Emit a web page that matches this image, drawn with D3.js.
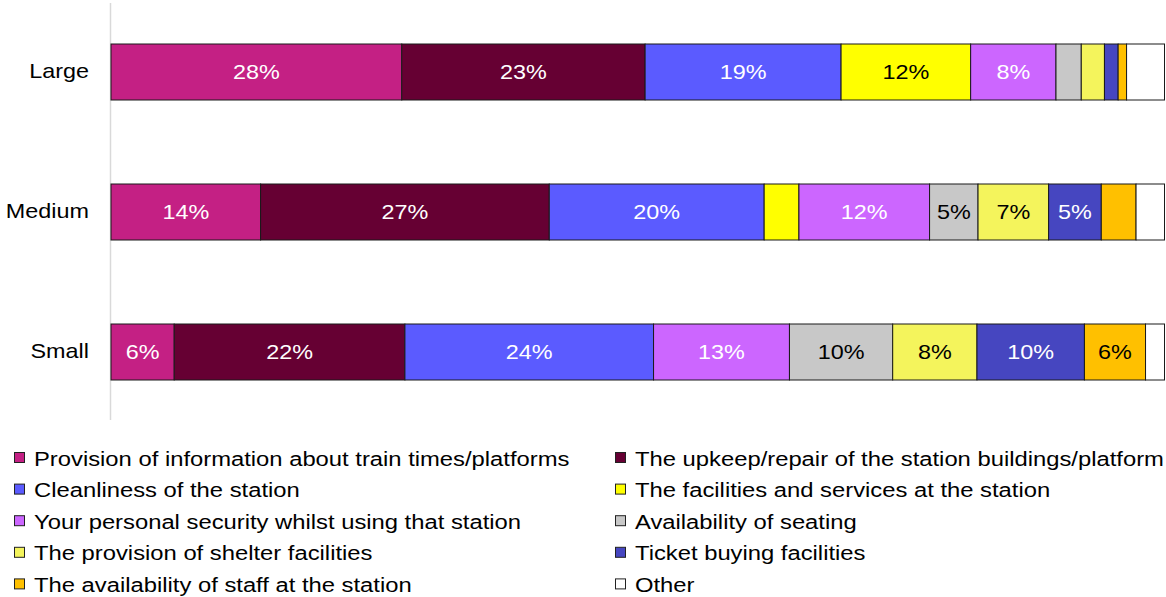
<!DOCTYPE html>
<html>
<head>
<meta charset="utf-8">
<script src="https://cdn.jsdelivr.net/npm/d3@7"></script>
<style>
  html, body { margin: 0; padding: 0; background: #ffffff; }
  svg { display: block; font-family: Arial, "Liberation Sans", sans-serif; }
</style>
</head>
<body>
<svg id="chart" width="1166" height="597"></svg>
<script>
// Station size groups (rows of the stacked bar chart)
const stations = ["Large", "Medium", "Small"];

// Priority areas, in stacking order
const areas = [
  "Provision of information about train times/platforms",
  "The upkeep/repair of the station buildings/platform",
  "Cleanliness of the station",
  "The facilities and services at the station",
  "Your personal security whilst using that station",
  "Availability of seating",
  "The provision of shelter facilities",
  "Ticket buying facilities",
  "The availability of staff at the station",
  "Other"
];

const areaColors = [
  "#C42084", "#660033", "#5B5BFF", "#FFFF00", "#CC66FF",
  "#C8C8C8", "#F4F45C", "#4646C0", "#FFC000", "#FFFFFF"
];

// Label ink per area (dark fills get white text)
const labelInk = [
  "#ffffff", "#ffffff", "#ffffff", "#000000", "#ffffff",
  "#000000", "#000000", "#ffffff", "#000000", "#000000"
];

// Share of respondents (%) per area, one array per station size
const largeValues  = [27.6, 23.1, 18.6, 12.3, 8.1, 2.4, 2.2, 1.3, 0.8, 3.6];
const mediumValues = [14.2, 27.4, 20.4, 3.3, 12.4, 4.6, 6.7, 5.0, 3.3, 2.7];
const smallValues  = [6.0, 21.9, 23.6, 0.0, 12.9, 9.8, 8.0, 10.2, 5.8, 1.8];

const seriesValues = [largeValues, mediumValues, smallValues];

// Segments below this share carry no label
const labelMin = 4;

// Text is drawn slightly widened
const wideText = 1.17;
const wideLegend = 1.19;

const svg = d3.select("#chart");

const x = d3.scaleLinear().domain([0, 100]).range([111, 1164.5]);
const y = d3.scaleBand().domain(stations).range([2, 422])
  .paddingInner(0.6).paddingOuter(0.3);

// Build stacked rows
const rows = stations.map((s, i) => {
  const obj = { station: s };
  areas.forEach((a, j) => { obj[a] = seriesValues[i][j]; });
  return obj;
});
const stack = d3.stack().keys(areas);
const layers = stack(rows);

// Category axis line
svg.append("line")
  .attr("x1", 110.5).attr("x2", 110.5)
  .attr("y1", 3).attr("y2", 420)
  .attr("stroke", "#d9d9d9").attr("stroke-width", 1.5);

// Bars
const layerG = svg.append("g").selectAll("g")
  .data(layers).join("g")
  .attr("fill", (d, i) => areaColors[i]);

layerG.selectAll("rect")
  .data(d => d.filter(p => p[1] - p[0] > 0).map(p => ({ p, key: d.key })))
  .join("rect")
  .attr("x", d => x(d.p[0]))
  .attr("y", d => y(d.p.data.station))
  .attr("width", d => x(d.p[1]) - x(d.p[0]))
  .attr("height", y.bandwidth())
  .attr("stroke", "#1a1a1a")
  .attr("stroke-width", 1);

// Value labels
layers.forEach((layer, i) => {
  svg.append("g").selectAll("text")
    .data(layer.filter(p => p[1] - p[0] >= labelMin))
    .join("text")
    .attr("transform", p =>
      `translate(${(x(p[0]) + x(p[1])) / 2},${y(p.data.station) + y.bandwidth() / 2}) scale(${wideText},1)`)
    .attr("dy", "0.36em")
    .attr("text-anchor", "middle")
    .attr("font-size", 20)
    .attr("fill", labelInk[i])
    .text(p => Math.round(p[1] - p[0]) + "%");
});

// Category labels
const yAxis = d3.axisLeft(y).tickSize(0).tickPadding(0);
const yAxisG = svg.append("g")
  .attr("transform", "translate(110,0)")
  .call(yAxis);
yAxisG.select(".domain").remove();
yAxisG.selectAll(".tick text")
  .attr("x", null)
  .attr("transform", `translate(-21,0) scale(${wideText},1)`)
  .attr("font-size", 20)
  .attr("font-family", "Arial, 'Liberation Sans', sans-serif")
  .attr("fill", "#000");

// Legend: two columns, filled row by row
const legend = svg.append("g");
const colX = [14, 615];
const rowY0 = 465.5, rowStep = 31.6;
areas.forEach((a, i) => {
  const cx = colX[i % 2];
  const by = rowY0 + Math.floor(i / 2) * rowStep;
  legend.append("rect")
    .attr("x", cx + 0.5).attr("y", by - 13)
    .attr("width", 10).attr("height", 10)
    .attr("fill", areaColors[i])
    .attr("stroke", "#222").attr("stroke-width", 1);
  legend.append("text")
    .attr("transform", `translate(${cx + 20},${by}) scale(${wideLegend},1)`)
    .attr("font-size", 20)
    .attr("fill", "#000")
    .text(a);
});
</script>
</body>
</html>
